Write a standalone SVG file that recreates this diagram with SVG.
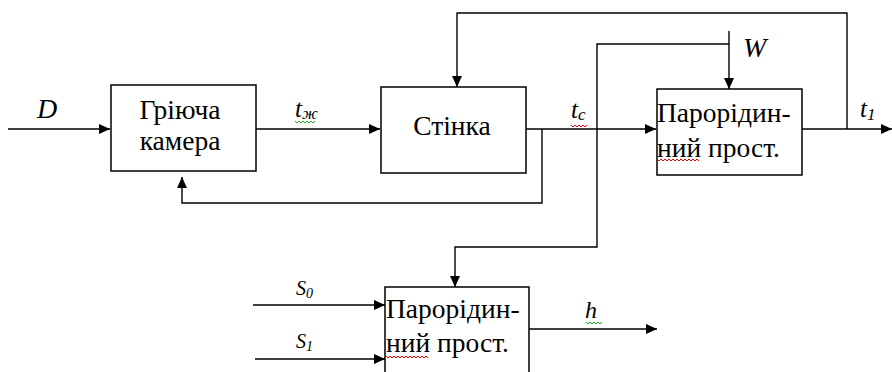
<svg xmlns="http://www.w3.org/2000/svg" width="892" height="372" viewBox="0 0 892 372" font-family="Liberation Serif, Times New Roman, serif">
<defs>
<marker id="ah" markerUnits="userSpaceOnUse" markerWidth="12" markerHeight="10" refX="11" refY="5" orient="auto">
<path d="M0,0 L11,5 L0,10 Z" fill="#000"/>
</marker>
</defs>
<g id="connectors" fill="none" stroke="#000" stroke-width="1.4">
<path d="M8,129 H110" marker-end="url(#ah)"/>
<path d="M256,129 H380" marker-end="url(#ah)"/>
<path d="M526,129 H656" marker-end="url(#ah)"/>
<path d="M802,129 H892" marker-end="url(#ah)"/>
<path d="M847,129 V13 H457 V87" marker-end="url(#ah)"/>
<path d="M542,129 V203 H182 V177" marker-end="url(#ah)"/>
<path d="M729,31 V89" marker-end="url(#ah)"/>
<path d="M729,44 H597 V247 H455 V287" marker-end="url(#ah)"/>
<path d="M253,305 H385" marker-end="url(#ah)"/>
<path d="M255,359 H385" marker-end="url(#ah)"/>
<path d="M529,329 H657" marker-end="url(#ah)"/>
</g>
<g id="labels">
<text font-style="italic" x="37" y="118" font-size="28">D</text>
<text font-style="italic" x="295" y="117" font-size="25">t<tspan font-size="17" dy="2">ж</tspan></text>
<text font-style="italic" x="571" y="118" font-size="25">t<tspan font-size="17" dy="2">c</tspan></text>
<text font-style="italic" x="860" y="117" font-size="25">t<tspan font-size="17" dy="3">1</tspan></text>
<text font-style="italic" x="743" y="57" font-size="28">W</text>
<text font-style="italic" x="585" y="318" font-size="24">h</text>
<text font-style="italic" x="296" y="295" font-size="20">S<tspan font-size="14" dy="3">0</tspan></text>
<text font-style="italic" x="296" y="348" font-size="20">S<tspan font-size="14" dy="3">1</tspan></text>
<g fill="none" stroke-width="1">
<path stroke="#2a2" d="M295,121 l2,2 l2,-2 l2,2 l2,-2 l2,2 l2,-2 l2,2 l2,-2 l2,2 l2,-2"/>
<path stroke="#e00" d="M571,125 l2,2 l2,-2 l2,2 l2,-2 l2,2 l2,-2 l2,2 l2,-2"/>
<path stroke="#2a2" d="M586,322 l2,2 l2,-2 l2,2 l2,-2 l2,2 l2,-2 l2,2 l2,-2"/>
</g>
</g>
<g id="heating-chamber">
<rect x="111" y="85" width="145" height="86" fill="#fff" stroke="#000" stroke-width="1.5"/>
<text font-size="27.5" x="180" y="119" text-anchor="middle">Гріюча</text>
<text font-size="27.5" x="180" y="150" text-anchor="middle">камера</text>
</g>
<g id="wall">
<rect x="381" y="87" width="145" height="86" fill="#fff" stroke="#000" stroke-width="1.5"/>
<text font-size="27.5" x="452" y="135" text-anchor="middle">Стінка</text>
</g>
<g id="vapor-space-top">
<rect x="657" y="89" width="145" height="86" fill="#fff" stroke="#000" stroke-width="1.5"/>
<text font-size="27.5" x="657" y="122">Парорідин-</text>
<text font-size="27.5" x="657" y="157">ний прост.</text>
<path fill="none" stroke="#e00" stroke-width="1" d="M657,159 l2,2 l2,-2 l2,2 l2,-2 l2,2 l2,-2 l2,2 l2,-2 l2,2 l2,-2 l2,2 l2,-2 l2,2 l2,-2 l2,2 l2,-2 l2,2 l2,-2 l2,2 l2,-2 l2,2"/>
</g>
<g id="vapor-space-bottom">
<rect x="385" y="287" width="144" height="100" fill="#fff" stroke="#000" stroke-width="1.5"/>
<text font-size="27.5" x="386" y="318">Парорідин-</text>
<text font-size="27.5" x="386" y="352">ний прост.</text>
<path fill="none" stroke="#e00" stroke-width="1" d="M386,356 l2,2 l2,-2 l2,2 l2,-2 l2,2 l2,-2 l2,2 l2,-2 l2,2 l2,-2 l2,2 l2,-2 l2,2 l2,-2 l2,2 l2,-2 l2,2 l2,-2 l2,2 l2,-2 l2,2"/>
</g>
</svg>
